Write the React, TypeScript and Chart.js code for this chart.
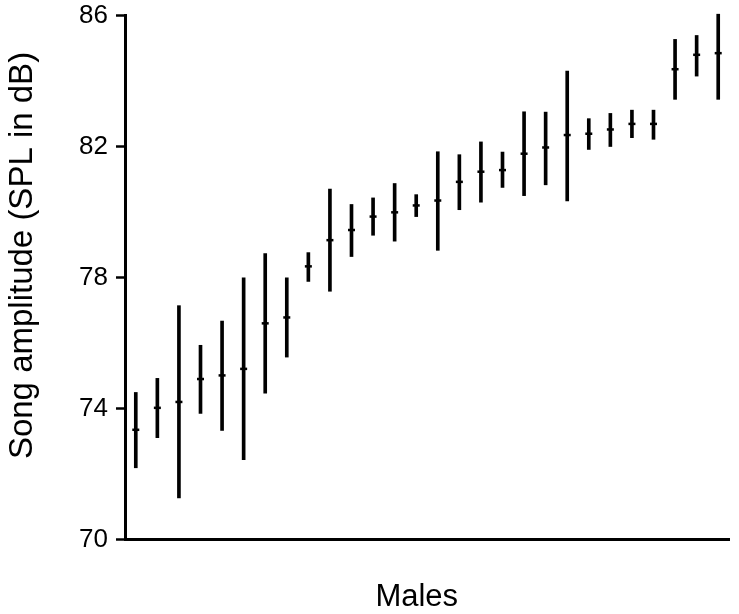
import React, { useEffect, useRef } from "react";
import { Chart, registerables } from "chart.js";

Chart.register(...registerables);

const males = Array.from({ length: 28 }, (_, i) => String(i + 1));
const means = [
  73.35, 74.02, 74.2, 74.9, 75.01, 75.21, 76.6, 76.78, 78.34, 79.14,
  79.45, 79.86, 79.99, 80.2, 80.35, 80.92, 81.23, 81.28, 81.78, 81.97,
  82.35, 82.39, 82.52, 82.69, 82.69, 84.36, 84.8, 84.85,
];
const lows = [
  72.19, 73.11, 71.27, 73.85, 73.33, 72.44, 74.47, 75.57, 77.88, 77.58,
  78.64, 79.29, 79.11, 79.86, 78.83, 80.07, 80.3, 80.75, 80.5, 80.83,
  80.34, 81.91, 82.0, 82.27, 82.22, 83.44, 84.15, 83.44,
];
const highs = [
  74.49, 74.92, 77.14, 75.93, 76.67, 77.99, 78.73, 77.99, 78.76, 80.7,
  80.23, 80.43, 80.87, 80.53, 81.84, 81.75, 82.14, 81.83, 83.06, 83.05,
  84.3, 82.85, 83.01, 83.11, 83.11, 85.27, 85.39, 86.04,
];
const yTicks = [70, 74, 78, 82, 86];
const xTitle = "Males";
const yTitle = "Song amplitude (SPL in dB)";

const FONT = "'Liberation Sans', Arial, sans-serif";

const axisTitles = {
  id: "axisTitles",
  afterDraw(chart: any) {
    const { ctx, chartArea } = chart;
    ctx.save();
    ctx.fillStyle = "#000";
    // x title
    ctx.font = `31px ${FONT}`;
    ctx.textAlign = "center";
    ctx.textBaseline = "alphabetic";
    const xc = chartArea.left + (chartArea.right - chartArea.left) * 0.483;
    ctx.fillText(xTitle, xc, chartArea.bottom + 66);
    // y title
    ctx.font = `33px ${FONT}`;
    const yc = chartArea.top + (chartArea.bottom - chartArea.top) * 0.458;
    ctx.translate(32, yc);
    ctx.rotate(-Math.PI / 2);
    ctx.fillText(yTitle, 0, 0);
    ctx.restore();
  },
};

export default function App() {
  const ref = useRef<HTMLCanvasElement | null>(null);
  useEffect(() => {
    document.body.style.margin = "0";
    const canvas = ref.current;
    if (!canvas) return;
    const chart = new Chart(canvas, {
      type: "bar",
      data: {
        labels: males,
        datasets: [
          {
            type: "line",
            label: "Mean",
            data: means,
            showLine: false,
            pointStyle: "line",
            pointRadius: 3.5,
            pointBorderWidth: 2.5,
            borderColor: "#000",
            pointBorderColor: "#000",
            backgroundColor: "#000",
            clip: false,
            order: 0,
          } as any,
          {
            type: "bar",
            label: "Range",
            data: lows.map((lo, i) => [lo, highs[i]]),
            backgroundColor: "#000",
            borderWidth: 0,
            barThickness: 3,
            clip: false,
            order: 1,
          } as any,
        ],
      },
      options: {
        responsive: false,
        animation: false,
        layout: { padding: { left: 0, top: 15.5, right: 10, bottom: 0 } },
        plugins: { legend: { display: false }, tooltip: { enabled: false } },
        scales: {
          x: {
            type: "category",
            offset: true,
            grid: { display: false, drawTicks: false },
            border: { display: true, color: "#000", width: 3 },
            ticks: { display: false },
            title: { display: false },
            afterFit: (s: any) => {
              s.height = 74.5;
              s.paddingLeft = 0;
              s.paddingRight = 0;
            },
          },
          y: {
            type: "linear",
            min: 70,
            max: 86,
            afterBuildTicks: (s: any) => {
              s.ticks = yTicks.map((v) => ({ value: v }));
            },
            grid: {
              display: true,
              drawOnChartArea: false,
              drawTicks: true,
              tickLength: 9,
              tickWidth: 2.5,
              tickColor: "#000",
            },
            border: { display: true, color: "#000", width: 3 },
            ticks: {
              color: "#000",
              font: { family: FONT, size: 26 },
              padding: 8,
            },
            title: { display: false },
            afterFit: (s: any) => {
              s.width = 125;
              s.paddingTop = 0;
              s.paddingBottom = 0;
            },
          },
        },
      },
      plugins: [axisTitles],
    });
    return () => chart.destroy();
  }, []);
  return (
    <div style={{ width: 739, height: 614, background: "#fff" }}>
      <canvas ref={ref} width={739} height={614} />
    </div>
  );
}
